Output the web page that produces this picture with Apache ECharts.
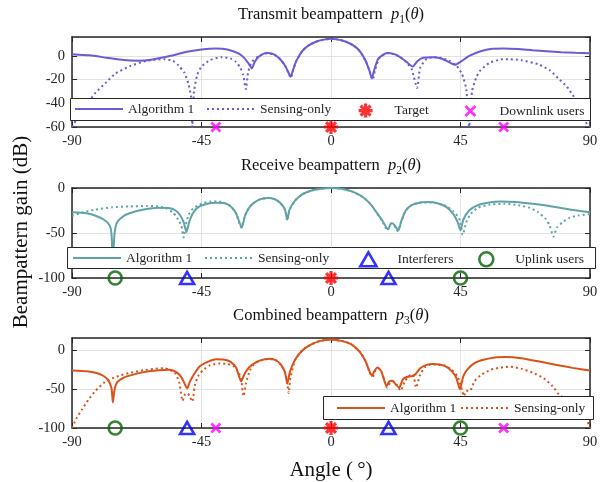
<!DOCTYPE html>
<html>
<head>
<meta charset="utf-8">
<script src="https://cdn.jsdelivr.net/npm/echarts@6/dist/echarts.min.js"></script>
<style>
  html, body { margin: 0; padding: 0; background: #fff; }
  #chart { width: 601px; height: 482px; }
</style>
</head>
<body>
<div id="chart"></div>
<script>
// ---- beampattern samples: [angle (deg), gain (dB)] ----
const TX_ALGORITHM = [
  [-90,1.5],[-84,0.5],[-78,-1.5],[-72,-3.5],[-67,-4],[-62,-3],[-56,0],[-50,3.5],[-45,5.5],[-40,6.3],
  [-36,5.5],[-32,2],[-30,-2],[-28.5,-7],[-27.5,-10.5],[-26.5,-5],[-25,-0.5],[-22.5,2.5],[-20,1.5],
  [-18,-2],[-16,-8],[-14.8,-14],[-14,-17.5],[-13.2,-12],[-12,-4],[-10,4],[-8,8.5],[-5,12.2],[-2,14],
  [0,14.5],[2,14],[5,12.2],[8,8.5],[10,4],[12,-4],[13.3,-12],[14.2,-19],[15,-12],[16.5,-2],[19.5,2.5],
  [22,1.5],[24,-1],[26,-4.5],[28.4,-9],[30,-4.5],[32,-1.5],[35.5,-1],[38,-2],[40,-4],[43,-7.5],[45,-5],
  [48,0],[52,4],[56,6],[60,6.3],[65,5.8],[70,4.8],[75,4],[80,3.2],[85,2.6],[90,2.2]
];
const TX_SENSING = [
  [-90,-60],[-87,-48],[-84,-38],[-81.8,-31],[-78,-22],[-75,-15],[-70,-8.8],[-64,-4],[-58,-2.7],[-55,-4],
  [-53,-8],[-51,-14],[-49.5,-24],[-48.6,-35],[-48.2,-60],[-47.6,-30],[-46.5,-16],[-45,-9],[-42,-3.5],
  [-38,-1],[-35,-2],[-33,-5],[-31.5,-10],[-30.5,-16],[-29.6,-28],[-28.8,-14],[-27.5,-5],[-25,0],[-22.5,2],
  [-20,1.5],[-18,-2],[-16,-8],[-14.8,-14.5],[-13.9,-18.5],[-13.2,-12],[-12,-4],[-10,4],[-8,8.5],[-5,12.2],
  [-2,14],[0,14.5],[2,14],[5,12.2],[8,8.5],[10,4],[12,-4],[13.3,-12],[14.5,-20],[15.3,-12],[16.8,-2],
  [19.5,2.3],[22,1.5],[24,-1],[26,-5],[28,-11],[29.9,-27],[31,-10],[33,-3],[35.5,-1],[38,-1.5],[41,-4],
  [43.5,-8],[45.5,-15],[47,-28],[48,-60],[49,-30],[50.5,-18],[52,-12],[55,-6],[59,-3],[62,-2.8],[66,-3.5],
  [72,-7],[76,-12],[79,-19],[82,-26],[84,-33],[86,-41],[88,-52],[89,-58],[90,-60]
];
const RX_ALGORITHM = [
  [-90,-27],[-85,-28],[-82,-30.5],[-79,-35],[-77,-41],[-76.3,-50],[-75.8,-80],[-75.2,-50],[-74.3,-38],
  [-72,-31],[-70,-28],[-65,-24],[-60,-22],[-56,-22.5],[-54,-25],[-52.5,-30],[-51.2,-38],[-50.2,-49],
  [-49.3,-38],[-48,-28],[-46,-21],[-43,-17.5],[-40,-16.5],[-37,-17],[-35,-20],[-33,-28],[-31,-44],
  [-29.8,-30],[-28,-20],[-25,-13],[-22,-11],[-19.5,-12.5],[-17.5,-17],[-16,-24],[-15.2,-35],[-14.4,-24],
  [-12.5,-14],[-10,-7],[-7,-3],[-4,-1],[0,0],[4,-1],[7,-3.5],[10,-8],[12,-12.5],[14,-19],[16,-28],
  [18,-37],[19.8,-46],[21,-39],[22,-41],[23.4,-47],[24.5,-36],[26,-25],[28,-19],[31,-16],[34,-15.5],
  [37,-17],[40,-21],[42.5,-29],[44,-38],[45,-47],[46,-35],[48,-25],[51,-19],[55,-16],[59,-15],[64,-15.5],
  [70,-17.5],[78,-21],[84,-24.5],[90,-27]
];
const RX_SENSING = [
  [-90,-31],[-86,-27],[-82,-24],[-76,-21.5],[-70,-20.5],[-64,-20],[-60,-20.5],[-57,-23],[-55,-27],
  [-53.5,-33],[-52,-42],[-51.2,-55],[-50.4,-40],[-49.5,-30],[-48,-23],[-45,-17.5],[-42,-15],[-39,-15],
  [-37,-16.5],[-35,-20],[-33,-28],[-31.2,-44],[-29.8,-30],[-28,-20],[-25,-13],[-22,-11],[-19.5,-12.5],
  [-17.5,-17],[-16,-24],[-15.2,-36],[-14.4,-24],[-12.5,-14],[-10,-7],[-7,-3],[-4,-1],[0,0],[4,-1],
  [7,-3.5],[10,-8],[12,-12.5],[14,-19],[16,-28],[18,-38],[19.6,-47],[20.8,-40],[22,-42],[23.2,-48],
  [24.5,-36],[26,-25],[28,-19],[31,-16.5],[34,-16],[37,-17],[40,-20],[42.5,-26],[44.5,-34],[45.8,-52],
  [47,-38],[48.5,-29],[51,-22],[55,-18.5],[60,-17.5],[65,-19],[69,-22],[72,-27],[74.5,-34],[76,-42],
  [77.3,-54],[78.5,-44],[80.5,-38],[83,-33],[86,-30.5],[90,-29]
];
const CB_ALGORITHM = [
  [-90,-26],[-85,-27],[-81.5,-29],[-79,-33],[-77.5,-38],[-76.3,-48],[-75.8,-67],[-75.2,-50],[-74.3,-41],
  [-72,-35],[-70,-32.5],[-65,-28],[-60,-25.5],[-56,-25],[-54,-27.5],[-52.5,-32],[-51.2,-40],[-50,-49],
  [-49,-40],[-47.5,-30],[-45.5,-20],[-43,-15],[-40,-11.5],[-37,-12],[-35,-14.5],[-33,-22],[-31.2,-40],
  [-30,-30],[-28.5,-22],[-26,-15],[-23,-11.5],[-21,-10.8],[-19,-13],[-17.5,-18],[-16,-28],[-15.2,-43],
  [-14.3,-28],[-12.5,-12],[-10,0],[-7,7.5],[-4,12],[0,14],[4,12],[7,8],[10,-2],[12,-14],[13.5,-28],
  [14.3,-33],[15,-27],[16.2,-22],[17.5,-27],[19.3,-46],[20.2,-40],[21.3,-39],[22.5,-44],[23.7,-48],
  [25,-37],[26.5,-34],[28.4,-33],[29.5,-30],[31,-23],[33,-19],[35.5,-17.5],[38,-18.5],[40,-21],[42,-27],
  [43.5,-35],[44.8,-50],[46,-33],[47.5,-24],[50,-16],[53,-12],[57,-9],[61,-8.5],[66,-10],[72,-14],
  [78,-18.5],[84,-22.5],[90,-26]
];
const CB_SENSING = [
  [-90,-100],[-88.5,-88],[-86.5,-76],[-84,-62],[-81.8,-52],[-79,-42],[-76,-36],[-73,-32],[-70,-29],
  [-65,-25.5],[-61,-23.5],[-58,-23],[-56,-25],[-54,-30],[-52.7,-42],[-51.6,-65],[-50.8,-57],[-49.9,-55],
  [-49,-60],[-48.2,-66],[-47.3,-45],[-46,-32],[-44,-24],[-42,-19],[-39,-17],[-36,-17.5],[-34,-20],
  [-32.5,-26],[-31.3,-36],[-30.4,-59],[-29.5,-42],[-28.2,-26],[-26.5,-17],[-24,-12.5],[-21.5,-11],
  [-19,-13],[-17.5,-18],[-16,-28],[-15.2,-43],[-14.7,-55],[-14.1,-35],[-12.5,-13],[-10,0],[-7,7.5],
  [-4,12],[0,14],[4,12],[7,8],[10,-2],[12,-14],[13.5,-29],[14.5,-34],[15.3,-27],[16.5,-23],[17.8,-30],
  [19.5,-48],[20.5,-42],[21.8,-40],[23,-45],[24.2,-52],[25.5,-41],[27,-33],[28.5,-31],[29.6,-48],
  [30.8,-33],[32.5,-22],[34.4,-18.5],[37,-18],[39.5,-19.5],[42,-25],[44,-34],[45.3,-48],[46.2,-59],
  [47,-52],[48.3,-52],[49.8,-40],[52,-32],[55.5,-25],[59,-22],[62,-21],[66,-23.5],[70,-28.5],[74,-36],
  [77,-46],[79.5,-58],[82,-62],[84.5,-64],[87,-75],[88.5,-85],[90,-100]
];

// ---- directions of the scene (deg) ----
const TARGET_ANGLES = [0];
const DOWNLINK_ANGLES = [-40, 60];
const INTERFERER_ANGLES = [-50, 20];
const UPLINK_ANGLES = [-75, 45];

// ---- axis settings ----
const X_TICKS = { min: -90, max: 90, step: 45 };
const Y_RANGES = [
  { min: -60, max: 16, step: 20 },
  { min: -100, max: 0, step: 50 },
  { min: -100, max: 16, step: 50 }
];

const LABELS = {
  txAlg: 'Algorithm 1', txSens: 'Sensing-only',
  rxAlg: 'Algorithm 1', rxSens: 'Sensing-only',
  cbAlg: 'Algorithm 1', cbSens: 'Sensing-only',
  target: 'Target', downlink: 'Downlink users',
  interferer: 'Interferers', uplink: 'Uplink users'
};

const SERIF = 'Liberation Serif, Times New Roman, serif';
const INK = '#262626';
const C_TX = '#6a5cd4';
const C_RX = '#5fa3a6';
const C_CB = '#d95319';
const C_TARGET = '#ff0000';
const C_DOWN = '#ff00ff';
const C_INTF = '#0000ff';
const C_UP = '#006400';

const PLOT_LEFT = 72, PLOT_RIGHT = 11;
const GRID_TOPS = [37, 188, 338];
const GRID_H = 90;

const ASTERISK = 'path://M0,-10L0,10M-10,0L10,0M-7.07,-7.07L7.07,7.07M-7.07,7.07L7.07,-7.07';
const CROSS = 'path://M-5,-5L5,5M-5,5L5,-5';
const TRIANGLE = 'path://M0,-10L10,7.3L-10,7.3Z';

const chart = echarts.init(document.getElementById('chart'), null, { renderer: 'canvas' });

const grids = GRID_TOPS.map(t => ({ left: PLOT_LEFT, right: PLOT_RIGHT, top: t, height: GRID_H }));

const xAxes = [], yAxes = [];
GRID_TOPS.forEach((_, i) => {
  xAxes.push({
    type: 'value', gridIndex: i, position: 'bottom',
    min: X_TICKS.min, max: X_TICKS.max, interval: X_TICKS.step,
    axisLine: { onZero: false, lineStyle: { color: INK, width: 1.5 } },
    axisTick: { inside: true, length: 5, lineStyle: { color: INK, width: 1 } },
    axisLabel: { color: INK, fontFamily: SERIF, fontSize: 14.5, margin: 7 },
    splitLine: { show: true, lineStyle: { color: '#e3e3e3', width: 1 } }
  });
  xAxes.push({
    type: 'value', gridIndex: i, position: 'top',
    min: X_TICKS.min, max: X_TICKS.max, interval: X_TICKS.step,
    axisLine: { onZero: false, lineStyle: { color: INK, width: 1.5 } },
    axisTick: { inside: true, length: 5, lineStyle: { color: INK, width: 1 } },
    axisLabel: { show: false }, splitLine: { show: false }
  });
  const r = Y_RANGES[i];
  yAxes.push({
    type: 'value', gridIndex: i, position: 'left',
    min: r.min, max: r.max, interval: r.step,
    axisLine: { show: true, onZero: false, lineStyle: { color: INK, width: 1.5 } },
    axisTick: { show: true, inside: true, length: 5, lineStyle: { color: INK, width: 1 } },
    axisLabel: { color: INK, fontFamily: SERIF, fontSize: 14.5, margin: 7, showMaxLabel: r.max % r.step === 0 },
    splitLine: { show: true, lineStyle: { color: '#e3e3e3', width: 1 } }
  });
  yAxes.push({
    type: 'value', gridIndex: i, position: 'right',
    min: r.min, max: r.max, interval: r.step,
    axisLine: { show: true, onZero: false, lineStyle: { color: INK, width: 1.5 } },
    axisTick: { show: true, inside: true, length: 5, lineStyle: { color: INK, width: 1 } },
    axisLabel: { show: false }, splitLine: { show: false }
  });
});

function curve(id, data, panel, color, dotted) {
  return {
    id, name: id, type: 'line', data,
    xAxisIndex: panel * 2, yAxisIndex: panel * 2,
    symbol: 'none', smooth: 0.2, z: 3,
    lineStyle: { color, width: 2, type: dotted ? [2, 3] : 'solid', cap: 'butt' },
    itemStyle: { color }
  };
}

function markers(id, angles, panel, symbol, size, color, filled, stroke) {
  return {
    id: id + panel, name: id, type: 'scatter',
    data: angles.map(a => [a, Y_RANGES[panel].min]),
    xAxisIndex: panel * 2, yAxisIndex: panel * 2,
    symbol, symbolSize: size, symbolKeepAspect: true, clip: false, z: 6,
    itemStyle: { color: filled ? color : 'rgba(0,0,0,0)', borderColor: color, borderWidth: stroke },
    emphasis: { disabled: true }
  };
}

const series = [
  curve('txAlg', TX_ALGORITHM, 0, C_TX, false),
  curve('txSens', TX_SENSING, 0, C_TX, true),
  curve('rxAlg', RX_ALGORITHM, 1, C_RX, false),
  curve('rxSens', RX_SENSING, 1, C_RX, true),
  curve('cbAlg', CB_ALGORITHM, 2, C_CB, false),
  curve('cbSens', CB_SENSING, 2, C_CB, true),

  markers('target', TARGET_ANGLES, 0, ASTERISK, 14, C_TARGET, true, 3.2),
  markers('downlink', DOWNLINK_ANGLES, 0, CROSS, 9, C_DOWN, true, 2.8),

  markers('uplink', UPLINK_ANGLES, 1, 'circle', 13, C_UP, false, 2.6),
  markers('interferer', INTERFERER_ANGLES, 1, TRIANGLE, 14, C_INTF, false, 2.6),
  markers('target', TARGET_ANGLES, 1, ASTERISK, 14, C_TARGET, true, 3.2),

  markers('uplink', UPLINK_ANGLES, 2, 'circle', 13, C_UP, false, 2.6),
  markers('interferer', INTERFERER_ANGLES, 2, TRIANGLE, 14, C_INTF, false, 2.6),
  markers('downlink', DOWNLINK_ANGLES, 2, CROSS, 9, C_DOWN, true, 2.8),
  markers('target', TARGET_ANGLES, 2, ASTERISK, 14, C_TARGET, true, 3.2)
];

// one legend entry per component so each column sits where it should
const LINE_KEYS = ['txAlg', 'txSens', 'rxAlg', 'rxSens', 'cbAlg', 'cbSens'];
function legendItem(name, left, centerY, iconSize, stroke) {
  const isLine = LINE_KEYS.indexOf(name) >= 0;
  const h = iconSize || 14;
  let item = { name };
  if (isLine) item = { name, itemStyle: { opacity: 0 } };
  else if (stroke) item = { name, itemStyle: { borderWidth: stroke } };
  return {
    left, top: centerY - h / 2, orient: 'horizontal', itemWidth: 48, itemHeight: h, itemGap: 0,
    padding: 0, z: 12, selectedMode: false, symbolKeepAspect: true,
    textStyle: { color: INK, fontFamily: SERIF, fontSize: 13.5 },
    formatter: n => LABELS[n],
    data: [item]
  };
}

const legends = [
  legendItem('txAlg', 74, 109), legendItem('txSens', 206, 109),
  legendItem('target', 357, 109, 14, 3.2), legendItem('downlink', 464, 109, 10, 2.8),
  legendItem('rxAlg', 72, 258), legendItem('rxSens', 204, 258),
  legendItem('interferer', 359, 258, 14, 2.6), legendItem('uplink', 478, 258, 14, 2.6),
  legendItem('cbAlg', 336, 408), legendItem('cbSens', 460, 408)
];

function titleText(x, y, name, idx) {
  return {
    type: 'text', z: 20,
    style: {
      x, y, align: 'center', verticalAlign: 'middle',
      text: '{n|' + name + '  }{i|p}{s|' + idx + '}{n|(}{i|θ}{n|)}',
      rich: {
        n: { fontFamily: SERIF, fontSize: 16.5, fill: '#111' },
        i: { fontFamily: SERIF, fontSize: 16.5, fontStyle: 'italic', fill: '#111' },
        s: { fontFamily: SERIF, fontSize: 11.5, fill: '#111', padding: [9, 0, 0, 0] }
      }
    }
  };
}

function legendBox(x, y, w, h) {
  return {
    type: 'rect', z: 11,
    shape: { x: x + 0.5, y: y + 0.5, width: w, height: h },
    style: { fill: '#ffffff', stroke: INK, lineWidth: 1 }
  };
}

const graphics = [
  titleText(331, 15, 'Transmit beampattern', 1),
  titleText(331, 166, 'Receive beampattern', 2),
  titleText(331, 316, 'Combined beampattern', 3),
  legendBox(70, 98, 520, 22),
  legendBox(67, 247, 528, 21),
  legendBox(323, 396, 270, 23),
  {
    type: 'text', z: 20, x: 21, y: 232, rotation: Math.PI / 2,
    style: { x: 0, y: 0, align: 'center', verticalAlign: 'middle', text: 'Beampattern gain (dB)',
      fontFamily: SERIF, fontSize: 21, fill: '#111' }
  },
  {
    type: 'text', z: 20,
    style: { x: 331, y: 470, align: 'center', verticalAlign: 'middle', text: 'Angle (\u2009°)',
      fontFamily: SERIF, fontSize: 21, fill: '#111' }
  }
];

chart.setOption({
  animation: false,
  backgroundColor: '#ffffff',
  grid: grids,
  xAxis: xAxes,
  yAxis: yAxes,
  legend: legends,
  series,
  graphic: graphics
});
</script>
</body>
</html>
